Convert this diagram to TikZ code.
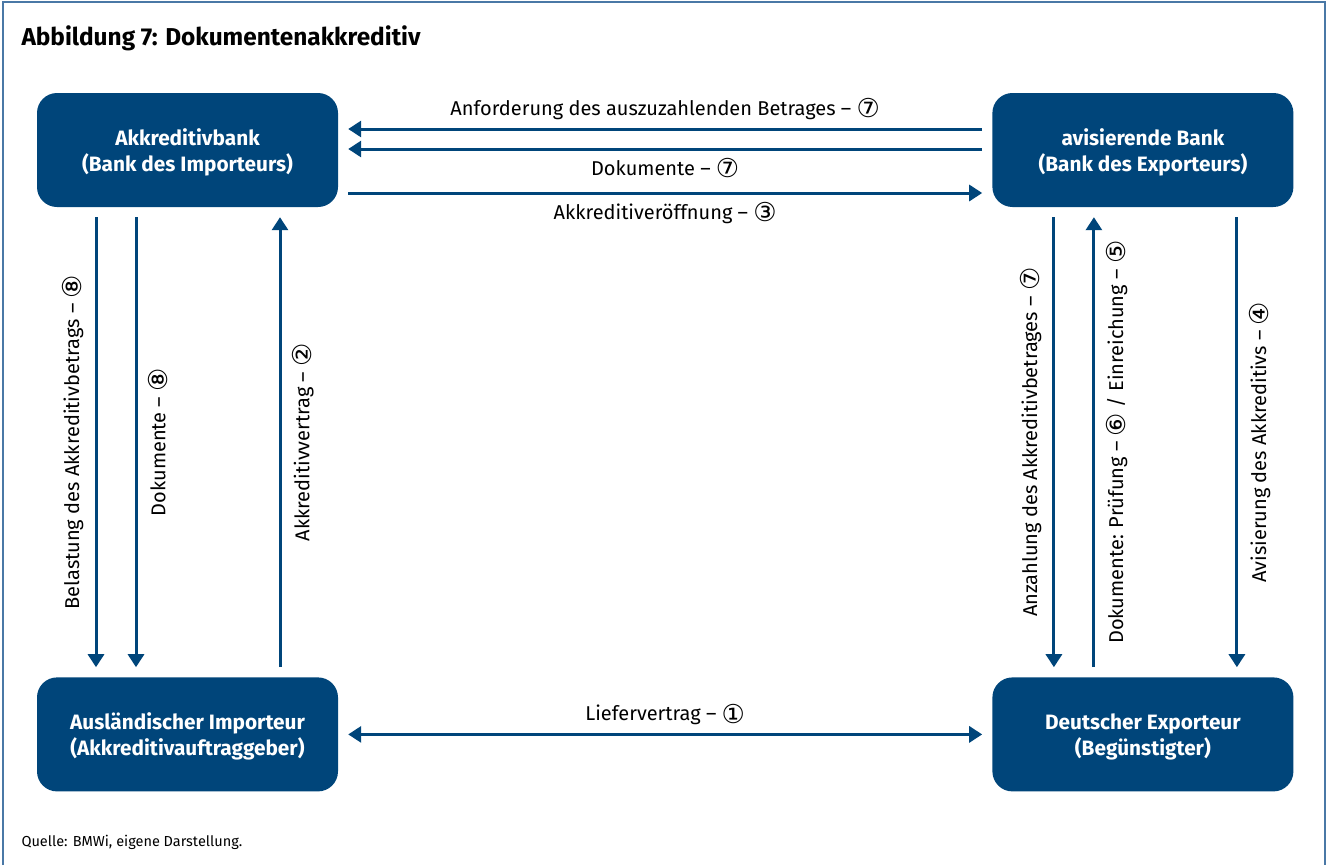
\documentclass[tikz,border=0pt]{standalone}
\usepackage{fontspec}
\setmainfont{Fira Sans}
\newfontfamily\symfont{DejaVu Sans}
\usetikzlibrary{positioning}
\usetikzlibrary{arrows.meta}
\definecolor{bmwiblue}{RGB}{0,69,122}
\definecolor{frameblue}{RGB}{74,120,166}
\newcommand{\cnum}[1]{\raisebox{-0.12em}{\scalebox{1.3}{\symfont #1}}}

\begin{document}
\begin{tikzpicture}[x=1pt,y=-1pt,>={Triangle[width=16pt,length=13pt]},
    box/.style={rectangle,rounded corners=20pt,fill=bmwiblue,text=white,
      minimum width=301pt,minimum height=114pt,align=center,text depth=0pt,
      font=\bfseries\fontsize{20.8}{26}\selectfont},
    flow/.style={draw=bmwiblue,line width=3pt,->,shorten >=10pt,shorten <=10pt},
    lbl/.style={font=\fontsize{20}{24}\selectfont,inner sep=8pt},
    vlbl/.style={lbl,inner sep=11pt,rotate=90}]
  \useasboundingbox (0,0) rectangle (1327,865);
  \draw[frameblue,line width=2pt] (3,865) -- (3,2) -- (1325,2) -- (1325,865);

  \node[anchor=base west,font=\bfseries\fontsize{24.4}{29}\selectfont] (title) at (18,45)
    {Abbildung 7: Dokumentenakkreditiv};

  % the four parties
  \node[box] (bankI) at (187.5,150) {Akkreditivbank\\(Bank des Importeurs)};
  \node[box,right=654pt of bankI] (bankE) {avisierende Bank\\(Bank des Exporteurs)};
  \node[box,below=470pt of bankI] (importeur) {Ausländischer Importeur\\(Akkreditivauftraggeber)};
  \node[box,below=470pt of bankE] (exporteur) {Deutscher Exporteur\\(Begünstigter)};

  % between the banks
  \draw[flow] ([yshift=21pt]bankE.west) -- ([yshift=21pt]bankI.east)
    node[lbl,midway,above] {Anforderung des auszuzahlenden Betrages – \cnum{⑦}};
  \draw[flow] ([yshift=1pt]bankE.west) -- ([yshift=1pt]bankI.east)
    node[lbl,midway,below] {Dokumente – \cnum{⑦}};
  \draw[flow] ([yshift=-43pt]bankI.east) -- ([yshift=-43pt]bankE.west)
    node[lbl,midway,below] {Akkreditiveröffnung – \cnum{③}};
  \draw[flow,<->] (importeur.east) -- (exporteur.west)
    node[lbl,midway,above] {Liefervertrag – \cnum{①}};

  % importer side
  \draw[flow] ([xshift=-91.5pt]bankI.south) -- ([xshift=-91.5pt]importeur.north)
    node[vlbl,midway,anchor=south] {Belastung des Akkreditivbetrags – \cnum{⑧}};
  \draw[flow] ([xshift=-51.5pt]bankI.south) -- ([xshift=-51.5pt]importeur.north)
    node[vlbl,midway,anchor=north] {Dokumente – \cnum{⑧}};
  \draw[flow] ([xshift=92.5pt]importeur.north) -- ([xshift=92.5pt]bankI.south)
    node[vlbl,midway,anchor=north] {Akkreditivvertrag – \cnum{②}};

  % exporter side
  \draw[flow] ([xshift=-89pt]bankE.south) -- ([xshift=-89pt]exporteur.north)
    node[vlbl,midway,anchor=south] {Anzahlung des Akkreditivbetrages – \cnum{⑦}};
  \draw[flow] ([xshift=-49pt]exporteur.north) -- ([xshift=-49pt]bankE.south)
    node[vlbl,midway,anchor=north] {Dokumente: Prüfung – \cnum{⑥} / Einreichung – \cnum{⑤}};
  \draw[flow] ([xshift=94pt]bankE.south) -- ([xshift=94pt]exporteur.north)
    node[vlbl,midway,anchor=north] {Avisierung des Akkreditivs – \cnum{④}};

  \node[anchor=base west,font=\fontsize{14.5}{17}\selectfont] (quelle) at (18,846)
    {Quelle: BMWi, eigene Darstellung.};
\end{tikzpicture}
\end{document}
